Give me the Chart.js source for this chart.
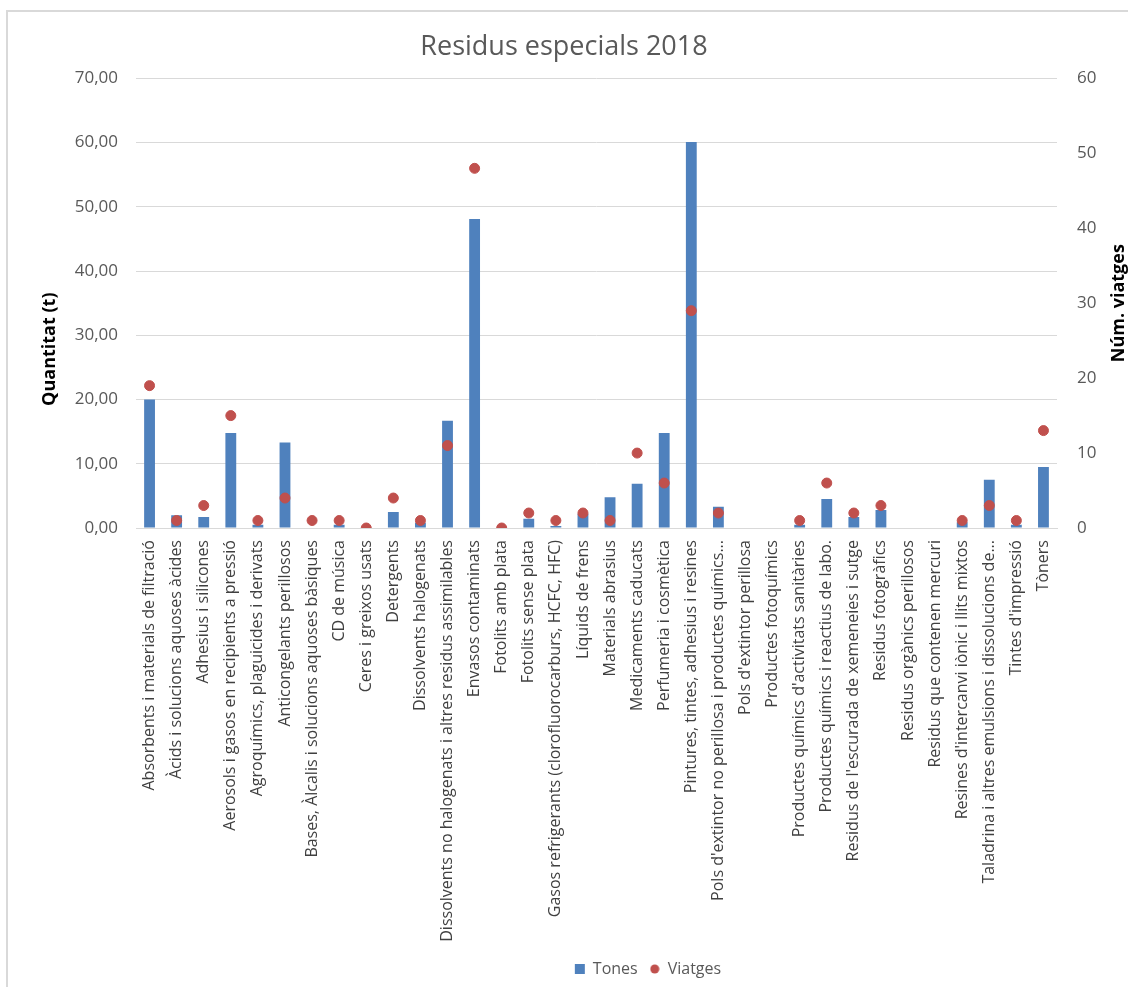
<!DOCTYPE html>
<html lang="ca">
<head>
<meta charset="UTF-8">
<title>Residus especials 2018</title>
<script src="https://cdn.jsdelivr.net/npm/chart.js@4.4.0/dist/chart.umd.min.js"></script>
<style>
    body { margin: 0; background: #fff; }
    #marc {
        position: absolute; left: 6px; top: 10px; width: 1200px; height: 1100px;
        border-left: 2px solid #d9d9d9; border-top: 2px solid #d9d9d9;
    }
    #wrap { position: absolute; left: 0; top: 0; width: 1128px; height: 987px; }
</style>
</head>
<body>
<div id="marc"></div>
<div id="wrap"><canvas id="grafic"></canvas></div>
<script>
    // categories
    const residus = [
        "Absorbents i materials de filtració",
        "Àcids i solucions aquoses àcides",
        "Adhesius i silicones",
        "Aerosols i gasos en recipients a pressió",
        "Agroquímics, plaguicides i derivats",
        "Anticongelants perillosos",
        "Bases, Àlcalis i solucions aquoses bàsiques",
        "CD de música",
        "Ceres i greixos usats",
        "Detergents",
        "Dissolvents halogenats",
        "Dissolvents no halogenats i altres residus assimilables",
        "Envasos contaminats",
        "Fotolits amb plata",
        "Fotolits sense plata",
        "Gasos refrigerants (clorofluorocarburs, HCFC, HFC)",
        "Líquids de frens",
        "Materials abrasius",
        "Medicaments caducats",
        "Perfumeria i cosmètica",
        "Pintures, tintes, adhesius i resines",
        "Pols d'extintor no perillosa i productes químics...",
        "Pols d'extintor perillosa",
        "Productes fotoquímics",
        "Productes químics d'activitats sanitàries",
        "Productes químics i reactius de labo.",
        "Residus de l'escurada de xemeneies i sutge",
        "Residus fotogràfics",
        "Residus orgànics perillosos",
        "Residus que contenen mercuri",
        "Resines d'intercanvi iònic i llits mixtos",
        "Taladrina i altres emulsions i dissolucions de...",
        "Tintes d'impressió",
        "Tòners"
    ];

    // quantitat en tones
    const tones = [
        20.0, 2.0, 1.7, 14.8, 0.5, 13.3, 0, 0.5, 0, 2.5, 0.8, 16.7,
        48.1, 0, 1.45, 0.3, 2.2, 4.8, 6.9, 14.8, 60.1, 3.3, 0, 0,
        0.5, 4.5, 1.7, 2.8, 0, 0, 0.9, 7.5, 0.5, 9.5
    ];

    // nombre de viatges
    const viatges = [
        19, 1, 3, 15, 1, 4, 1, 1, 0, 4, 1, 11,
        48, 0, 2, 1, 2, 1, 10, 6, 29, 2, null, null,
        1, 6, 2, 3, null, null, 1, 3, 1, 13
    ];

    const colorText = '#595959';

    // punt petit per a la llegenda de Viatges
    const puntLlegenda = document.createElement('canvas');
    puntLlegenda.width = 10;
    puntLlegenda.height = 10;
    const pc = puntLlegenda.getContext('2d');
    pc.fillStyle = '#c0504d';
    pc.beginPath();
    pc.arc(5, 5, 4.5, 0, Math.PI * 2);
    pc.fill();

    // titols dels eixos, llegits de baix a dalt com a l'original
    const titolsEixos = {
        id: 'titolsEixos',
        afterLayout(chart) {
            // la llegenda de l'original no queda centrada
            chart.legend.left += 84;
            chart.legend.right += 84;
        },
        afterDraw(chart) {
            const ctx = chart.ctx;
            const area = chart.chartArea;
            const posar = (text, x, y) => {
                ctx.save();
                ctx.translate(x, y);
                ctx.rotate(-Math.PI / 2);
                ctx.font = 'bold 18px "Open Sans"';
                ctx.fillStyle = '#000';
                ctx.textAlign = 'center';
                ctx.textBaseline = 'middle';
                ctx.fillText(text, 0, 0);
                ctx.restore();
            };
            posar('Quantitat (t)', 50, (area.top + area.bottom) / 2 + 46);
            posar('Núm. viatges', 1119, (area.top + area.bottom) / 2);
        }
    };

    const ctx = document.getElementById('grafic').getContext('2d');
    const grafic = new Chart(ctx, {
        type: 'bar',
        data: {
            labels: residus,
            datasets: [{
                label: 'Tones',
                data: tones,
                backgroundColor: '#4f81bd',
                barPercentage: 0.4,
                categoryPercentage: 1,
                yAxisID: 'y',
                order: 2,
                pointStyle: 'rect'
            }, {
                type: 'line',
                label: 'Viatges',
                data: viatges,
                showLine: false,
                pointRadius: 5,
                pointHoverRadius: 5,
                pointBackgroundColor: '#c0504d',
                pointBorderColor: '#c0504d',
                backgroundColor: '#c0504d',
                borderColor: '#c0504d',
                yAxisID: 'y1',
                order: 1,
                pointStyle: 'circle'
            }]
        },
        options: {
            responsive: true,
            maintainAspectRatio: false,
            animation: false,
            layout: { padding: 0 },
            plugins: {
                title: {
                    display: true,
                    text: 'Residus especials 2018',
                    color: colorText,
                    font: { family: 'Open Sans', size: 27, weight: 'normal' },
                    padding: { top: 31, bottom: 15 }
                },
                legend: {
                    position: 'bottom',
                    labels: {
                        usePointStyle: true,
                        boxWidth: 10,
                        boxHeight: 10,
                        color: colorText,
                        font: { family: 'Open Sans', size: 16 },
                        padding: 12,
                        sort: (a, b) => a.datasetIndex - b.datasetIndex,
                        generateLabels: chart => {
                            const items = Chart.defaults.plugins.legend.labels.generateLabels(chart);
                            items.forEach(it => {
                                if (it.text === 'Viatges') it.pointStyle = puntLlegenda;
                            });
                            return items;
                        }
                    }
                },
                tooltip: { enabled: false }
            },
            scales: {
                x: {
                    grid: { display: false },
                    border: { color: '#d9d9d9' },
                    afterFit: s => { s.height = 421; },
                    ticks: {
                        autoSkip: false,
                        maxRotation: 90,
                        minRotation: 90,
                        padding: 4,
                        color: '#404040',
                        font: { family: 'Open Sans', size: 16 }
                    }
                },
                y: {
                    position: 'left',
                    min: 0,
                    max: 70,
                    border: { display: false },
                    grid: { color: '#d9d9d9', drawTicks: false },
                    afterFit: s => { s.width = 136; },
                    ticks: {
                        stepSize: 10,
                        padding: 18,
                        color: colorText,
                        font: { family: 'Open Sans', size: 17 },
                        callback: v => v.toFixed(2).replace('.', ',')
                    }
                },
                y1: {
                    position: 'right',
                    min: 0,
                    max: 60,
                    border: { display: false },
                    grid: { display: false, drawTicks: false },
                    afterFit: s => { s.width = 71; },
                    ticks: {
                        stepSize: 10,
                        padding: 20,
                        color: colorText,
                        font: { family: 'Open Sans', size: 17 }
                    }
                }
            }
        },
        plugins: [titolsEixos]
    });
</script>
</body>
</html>
